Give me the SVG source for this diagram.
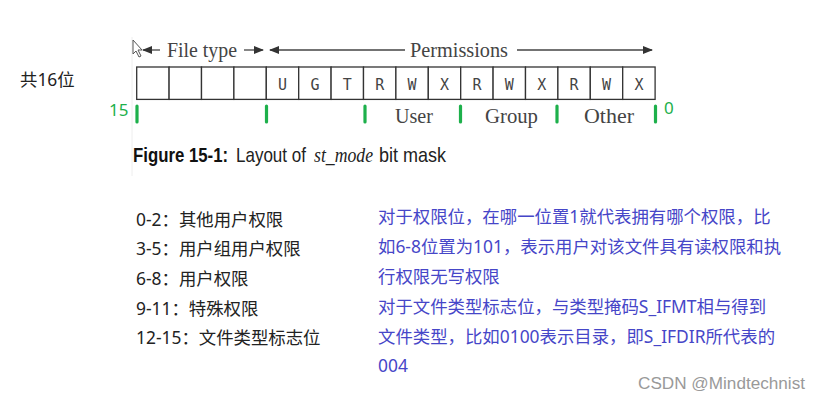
<svg xmlns="http://www.w3.org/2000/svg" width="820" height="401" viewBox="0 0 820 401">
<style>
.cell{fill:#fff;stroke:#333;stroke-width:1.3}
.bit{font-family:"DejaVu Sans Mono","Liberation Mono",monospace;font-size:15px;fill:#444;text-anchor:middle}
.serif{font-family:"Liberation Serif","DejaVu Serif",serif;font-size:20px;fill:#444}
.arr{stroke:#444;stroke-width:1.3;fill:none}
.tick{stroke:#1db04b;stroke-width:3.2;stroke-linecap:round}
.green{font-family:"Noto Sans","Liberation Sans",sans-serif;font-size:17px;fill:#1db04b}
.cn{font-family:"Noto Sans","Noto Sans CJK SC",sans-serif;font-size:17.4px;fill:#222}
.blue{font-family:"Noto Sans","Noto Sans CJK SC",sans-serif;font-size:17.4px;fill:#4646c8}
</style>
<defs>
<marker id="ah" markerWidth="10" markerHeight="8" refX="9" refY="4" orient="auto" markerUnits="userSpaceOnUse">
<path d="M0,0 L10,4 L0,8 Z" fill="#333"/>
</marker>
</defs>
<rect width="820" height="401" fill="#fff"/>
<line x1="132" y1="37" x2="132" y2="176" stroke="#eeeeee" stroke-width="1"/>
<g id="cursor"><path d="M133,40 L133,54 L136,51 L139,57 L141,56 L138,50 L142,50 Z" fill="#fff" stroke="#555" stroke-width="1"/></g>
<g id="connectors">
<line class="arr" x1="160" y1="50" x2="143" y2="50" marker-end="url(#ah)"/>
<line class="arr" x1="244" y1="50" x2="263" y2="50" marker-end="url(#ah)"/>
<line class="arr" x1="405" y1="50" x2="270" y2="50" marker-end="url(#ah)"/>
<line class="arr" x1="517" y1="50" x2="652" y2="50" marker-end="url(#ah)"/>
</g>
<g id="labels-top">
<text class="serif" x="167" y="57" textLength="70" lengthAdjust="spacingAndGlyphs">File type</text>
<text class="serif" x="410" y="57" textLength="98" lengthAdjust="spacingAndGlyphs">Permissions</text>
</g>
<g id="bitfield">
<rect class="cell" x="136.7" y="67" width="32.4" height="32.4"/>
<rect class="cell" x="169.1" y="67" width="32.4" height="32.4"/>
<rect class="cell" x="201.5" y="67" width="32.4" height="32.4"/>
<rect class="cell" x="233.9" y="67" width="32.4" height="32.4"/>
<rect class="cell" x="266.3" y="67" width="32.4" height="32.4"/>
<rect class="cell" x="298.7" y="67" width="32.4" height="32.4"/>
<rect class="cell" x="331.1" y="67" width="32.4" height="32.4"/>
<rect class="cell" x="363.5" y="67" width="32.4" height="32.4"/>
<rect class="cell" x="395.9" y="67" width="32.4" height="32.4"/>
<rect class="cell" x="428.3" y="67" width="32.4" height="32.4"/>
<rect class="cell" x="460.7" y="67" width="32.4" height="32.4"/>
<rect class="cell" x="493.1" y="67" width="32.4" height="32.4"/>
<rect class="cell" x="525.5" y="67" width="32.4" height="32.4"/>
<rect class="cell" x="557.9" y="67" width="32.4" height="32.4"/>
<rect class="cell" x="590.3" y="67" width="32.4" height="32.4"/>
<rect class="cell" x="622.7" y="67" width="32.4" height="32.4"/>
<text class="bit" x="282.5" y="90">U</text>
<text class="bit" x="314.9" y="90">G</text>
<text class="bit" x="347.3" y="90">T</text>
<text class="bit" x="379.7" y="90">R</text>
<text class="bit" x="412.1" y="90">W</text>
<text class="bit" x="444.5" y="90">X</text>
<text class="bit" x="476.9" y="90">R</text>
<text class="bit" x="509.3" y="90">W</text>
<text class="bit" x="541.7" y="90">X</text>
<text class="bit" x="574.1" y="90">R</text>
<text class="bit" x="606.5" y="90">W</text>
<text class="bit" x="638.9" y="90">X</text>
</g>
<g id="groups">
<text class="serif" x="395" y="123" textLength="38" lengthAdjust="spacingAndGlyphs">User</text>
<text class="serif" x="485" y="123" textLength="53" lengthAdjust="spacingAndGlyphs">Group</text>
<text class="serif" x="584" y="123" textLength="50" lengthAdjust="spacingAndGlyphs">Other</text>
</g>
<g id="ticks">
<line class="tick" x1="137" y1="106" x2="137" y2="122"/>
<line class="tick" x1="266.5" y1="106" x2="266.5" y2="122"/>
<line class="tick" x1="365" y1="106" x2="365" y2="122"/>
<line class="tick" x1="460.5" y1="106" x2="460.5" y2="122"/>
<line class="tick" x1="557" y1="106" x2="557" y2="122"/>
<line class="tick" x1="655.5" y1="106" x2="655.5" y2="122"/>
<text class="green" x="109" y="116">15</text>
<text class="green" x="664" y="114">0</text>
</g>
<g id="caption">
<text transform="translate(133,162) scale(0.84,1)" font-family="Liberation Sans,sans-serif" font-weight="bold" font-size="20" fill="#111">Figure 15-1:</text>
<text transform="translate(236,162) scale(0.85,1)" font-family="Liberation Sans,sans-serif" font-size="20" fill="#222">Layout of</text>
<text x="314" y="162" font-family="Liberation Serif,serif" font-style="italic" font-size="21" fill="#222" textLength="59" lengthAdjust="spacingAndGlyphs">st_mode</text>
<text transform="translate(379,162) scale(0.9,1)" font-family="Liberation Sans,sans-serif" font-size="20" fill="#222">bit mask</text>
</g>
<g id="total">
<text class="cn" x="20" y="86">共16位</text>
</g>
<g id="list">
<text class="cn" x="136" y="226">0-2：其他用户权限</text>
<text class="cn" x="136" y="255">3-5：用户组用户权限</text>
<text class="cn" x="136" y="285">6-8：用户权限</text>
<text class="cn" x="136" y="315">9-11：特殊权限</text>
<text class="cn" x="136" y="344">12-15：文件类型标志位</text>
</g>
<g id="notes">
<text class="blue" x="378" y="223">对于权限位，在哪一位置1就代表拥有哪个权限，比</text>
<text class="blue" x="378" y="253">如6-8位置为101，表示用户对该文件具有读权限和执</text>
<text class="blue" x="378" y="283">行权限无写权限</text>
<text class="blue" x="378" y="313">对于文件类型标志位，与类型掩码S_IFMT相与得到</text>
<text class="blue" x="378" y="343">文件类型，比如0100表示目录，即S_IFDIR所代表的</text>
<text class="blue" x="378" y="372">004</text>
</g>
<text x="638" y="389" font-family="Liberation Sans,sans-serif" font-size="16" fill="#999" textLength="167" lengthAdjust="spacingAndGlyphs">CSDN @Mindtechnist</text>
</svg>
